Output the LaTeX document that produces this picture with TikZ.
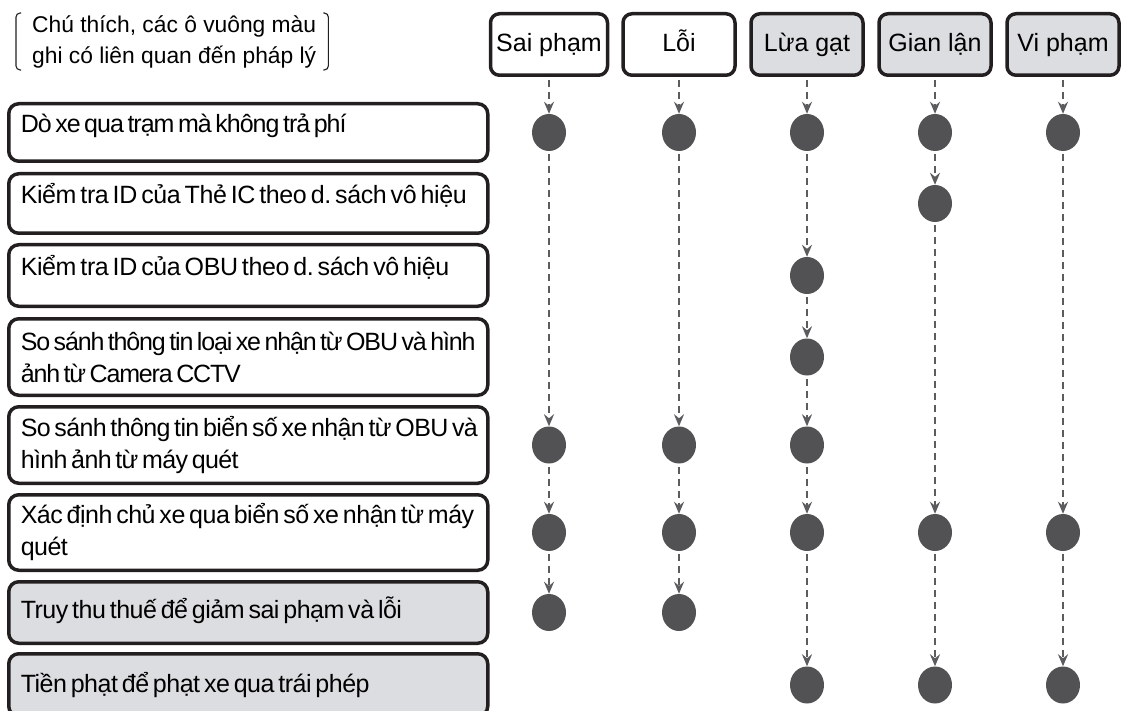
\documentclass[tikz,border=0pt]{standalone}
\usepackage{fontspec}
\setmainfont{Liberation Sans}
\newfontfamily\tightfont{Liberation Sans}[LetterSpace=-2.0, WordSpace=0.6]
\usepackage{xcolor}
\usetikzlibrary{arrows.meta,shapes.geometric}
\definecolor{inkline}{HTML}{231F20}
\definecolor{legalfill}{HTML}{DCDDE0}
\definecolor{dotgray}{HTML}{525254}
\definecolor{flowgray}{HTML}{5C5C5E}
\frenchspacing

\begin{document}
\begin{tikzpicture}[
  x=1pt, y=-1pt,
  headbox/.style={
    rectangle, rounded corners=9pt, draw=inkline, line width=3.5pt,
    minimum width=112pt, minimum height=61.5pt, inner sep=2pt,
    text height=20pt, text depth=5pt,
    font=\fontsize{25}{30}\selectfont,
  },
  rowbox/.style={
    rectangle, rounded corners=10pt, draw=inkline, line width=3.5pt,
    anchor=west, text width=455pt, inner xsep=12pt, inner ysep=2pt, align=flush left,
    font=\tightfont\fontsize{25}{32}\selectfont,
  },
  squeeze/.style={font=\tightfont\addfontfeatures{LetterSpace=#1}\fontsize{25}{32}\selectfont},
  hightext/.style={text height=18pt, text depth=18pt},
  lowtext/.style={text height=18pt, text depth=#1},
  legal/.style={fill=legalfill},
  hit/.style={ellipse, fill=dotgray, minimum width=34pt, minimum height=37pt, inner sep=0pt},
  flow/.style={
    -{Stealth[length=12pt, width=10pt, inset=4pt]}, dash pattern=on 7pt off 5pt,
    line width=2pt, flowgray, shorten <=3pt,
  },
]
\useasboundingbox (0,0) rectangle (1121,711);

% Legend with brackets
\node[font=\fontsize{22.8}{31}\selectfont, align=left, inner xsep=12pt, inner ysep=2pt, anchor=west] (legend) at (20, 41.5) {Chú thích, các ô vuông màu\\ghi có liên quan đến pháp lý};
\draw[line width=1.1pt, inkline, rounded corners=4pt] ([xshift=1pt]legend.north west) -- ([xshift=-4pt]legend.north west) -- ([xshift=-4pt]legend.south west) -- ([xshift=1pt]legend.south west);
\draw[line width=1.1pt, inkline, rounded corners=4pt] ([xshift=-5pt]legend.north east) -- (legend.north east) -- (legend.south east) -- ([xshift=-5pt]legend.south east);

% Column heads
\node[headbox, minimum width=117pt] (h1) at (549, 44.5) {Sai phạm};
\node[headbox] (h2) at (679, 44.5) {Lỗi};
\node[headbox, legal] (h3) at (807, 44.5) {Lừa gạt};
\node[headbox, legal] (h4) at (935, 44.5) {Gian lận};
\node[headbox, legal] (h5) at (1063, 44.5) {Vi phạm};

% Row 1 - detection at the gate
\node[rowbox, squeeze=-4, hightext, minimum height=57.5pt] (r1) at (7, 132.5) {Dò xe qua trạm mà không trả phí};
% Row 2 - IC card blacklist
\node[rowbox, squeeze=-1.6, hightext, minimum height=59.5pt] (r2) at (7, 203.5) {Kiểm tra ID của Thẻ IC theo d. sách vô hiệu};
% Row 3 - OBU blacklist
\node[rowbox, squeeze=-1.6, hightext, minimum height=61.5pt] (r3) at (7, 275.5) {Kiểm tra ID của OBU theo d. sách vô hiệu};
% Row 4 - vehicle class vs CCTV
\node[rowbox, squeeze=-4.6, minimum height=76.5pt] (r4) at (7, 357) {\mbox{So sánh thông tin loại xe nhận từ OBU và hình}\\\mbox{ảnh từ Camera CCTV}};
% Row 5 - plate vs scanner
\node[rowbox, squeeze=-2.6, minimum height=76.5pt] (r5) at (7, 445) {\mbox{So sánh thông tin biển số xe nhận từ OBU và}\\\mbox{hình ảnh từ máy quét}};
% Row 6 - owner lookup
\node[rowbox, minimum height=75.5pt] (r6) at (7, 532.5) {\mbox{Xác định chủ xe qua biển số xe nhận từ máy}\\quét};
% Row 7 - back toll
\node[rowbox, legal, lowtext=7pt, minimum height=61.5pt] (r7) at (7, 612.5) {Truy thu thuế để giảm sai phạm và lỗi};
% Row 8 - fines
\node[rowbox, legal, lowtext=4pt, minimum height=62.5pt] (r8) at (7, 685) {Tiền phạt để phạt xe qua trái phép};

% Dots
\node[hit] (d11) at (h1 |- r1) {};
\node[hit] (d15) at (h1 |- r5) {};
\node[hit] (d16) at (h1 |- r6) {};
\node[hit] (d17) at (h1 |- r7) {};

\node[hit] (d21) at (h2 |- r1) {};
\node[hit] (d25) at (h2 |- r5) {};
\node[hit] (d26) at (h2 |- r6) {};
\node[hit] (d27) at (h2 |- r7) {};

\node[hit] (d31) at (h3 |- r1) {};
\node[hit] (d33) at (h3 |- r3) {};
\node[hit] (d34) at (h3 |- r4) {};
\node[hit] (d35) at (h3 |- r5) {};
\node[hit] (d36) at (h3 |- r6) {};
\node[hit] (d38) at (h3 |- r8) {};

\node[hit] (d41) at (h4 |- r1) {};
\node[hit] (d42) at (h4 |- r2) {};
\node[hit] (d46) at (h4 |- r6) {};
\node[hit] (d48) at (h4 |- r8) {};

\node[hit] (d51) at (h5 |- r1) {};
\node[hit] (d56) at (h5 |- r6) {};
\node[hit] (d58) at (h5 |- r8) {};

% Flow down each column
\draw[flow] (h1) -- (d11);
\draw[flow] (d11) -- (d15);
\draw[flow] (d15) -- (d16);
\draw[flow] (d16) -- (d17);

\draw[flow] (h2) -- (d21);
\draw[flow] (d21) -- (d25);
\draw[flow] (d25) -- (d26);
\draw[flow] (d26) -- (d27);

\draw[flow] (h3) -- (d31);
\draw[flow] (d31) -- (d33);
\draw[flow] (d33) -- (d34);
\draw[flow] (d34) -- (d35);
\draw[flow] (d35) -- (d36);
\draw[flow] (d36) -- (d38);

\draw[flow] (h4) -- (d41);
\draw[flow] (d41) -- (d42);
\draw[flow] (d42) -- (d46);
\draw[flow] (d46) -- (d48);

\draw[flow] (h5) -- (d51);
\draw[flow] (d51) -- (d56);
\draw[flow] (d56) -- (d58);

\end{tikzpicture}
\end{document}
